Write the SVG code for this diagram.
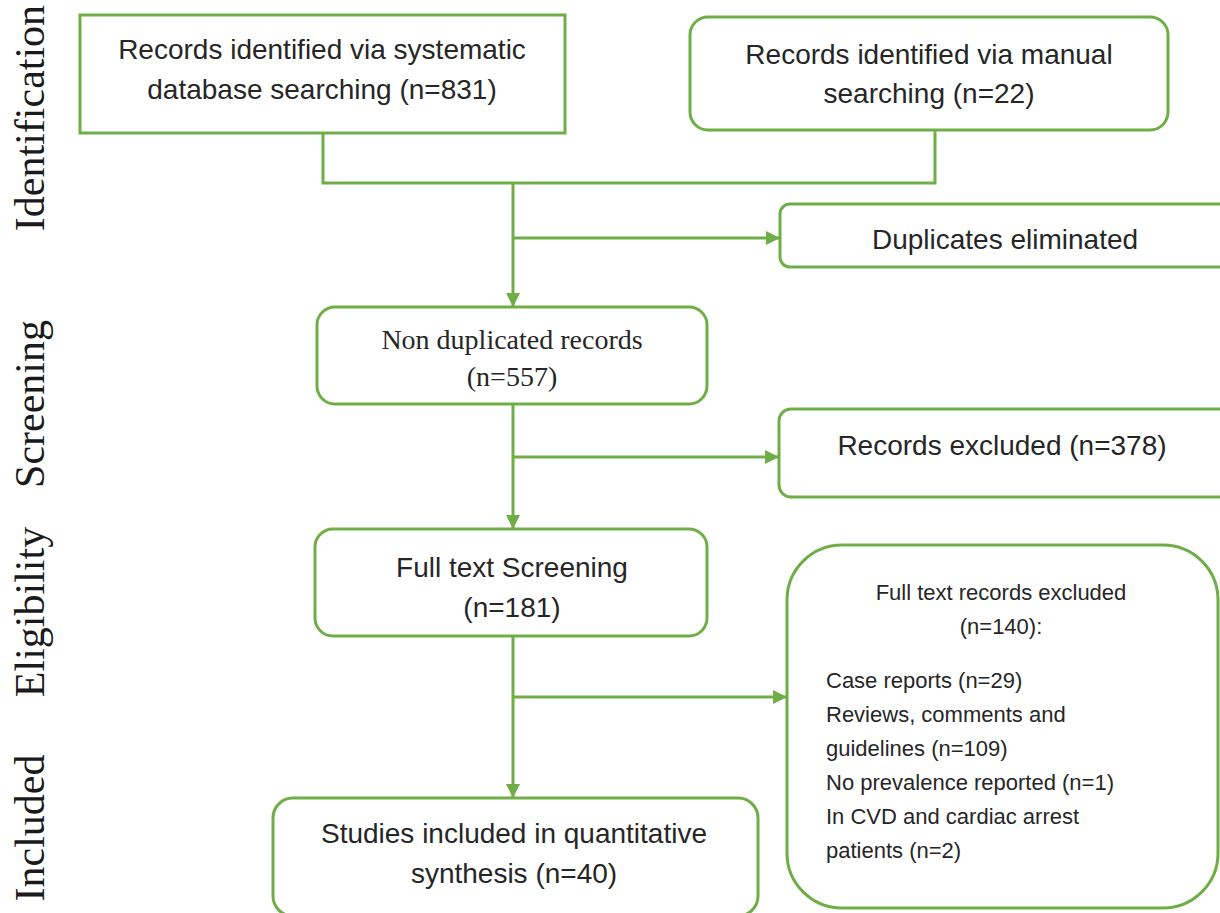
<svg xmlns="http://www.w3.org/2000/svg" width="1220" height="913" viewBox="0 0 1220 913">
<defs>
<style>
.box{fill:#fff;stroke:#6fae46;stroke-width:3}
.con{fill:none;stroke:#6fae46;stroke-width:3}
.t{font-family:"Liberation Sans",Arial,sans-serif;font-size:28px;fill:#262626;text-anchor:middle}
.s{font-family:"Liberation Serif","Times New Roman",serif;font-size:28px;fill:#262626;text-anchor:middle}
.sm{font-family:"Liberation Sans",Arial,sans-serif;font-size:22px;fill:#262626}
.lab{font-family:"Liberation Serif","Times New Roman",serif;font-size:42px;fill:#1a1a1a;text-anchor:middle}
</style>
<marker id="arr" markerUnits="userSpaceOnUse" markerWidth="16" markerHeight="16" refX="14" refY="7" orient="auto">
<path d="M0,0 L14,7 L0,14 Z" fill="#6fae46"/>
</marker>
</defs>
<rect width="1220" height="913" fill="#fff"/>

<g id="stage-labels">
<text class="lab" transform="translate(44,118) rotate(-90)">Identification</text>
<text class="lab" transform="translate(44,404) rotate(-90)">Screening</text>
<text class="lab" transform="translate(44,612) rotate(-90)">Eligibility</text>
<text class="lab" transform="translate(44,828) rotate(-90)">Included</text>
</g>

<g id="connectors">
<path class="con" d="M323,133 V183 H935 V130"/>
<path class="con" d="M513,183 V307" marker-end="url(#arr)"/>
<path class="con" d="M513,238 H780" marker-end="url(#arr)"/>
<path class="con" d="M513,404 V529" marker-end="url(#arr)"/>
<path class="con" d="M513,457 H779" marker-end="url(#arr)"/>
<path class="con" d="M513,636 V798" marker-end="url(#arr)"/>
<path class="con" d="M513,697 H787" marker-end="url(#arr)"/>
</g>

<g id="n-database">
<rect class="box" x="80" y="15" width="485" height="118"/>
<text class="t" x="322" y="59">Records identified via systematic</text>
<text class="t" x="322" y="99">database searching (n=831)</text>
</g>

<g id="n-manual">
<rect class="box" x="690" y="17" width="478" height="113" rx="18"/>
<text class="t" x="929" y="64">Records identified via manual</text>
<text class="t" x="929" y="103">searching (n=22)</text>
</g>

<g id="n-duplicates">
<rect class="box" x="780" y="204" width="460" height="63" rx="10"/>
<text class="t" x="1005" y="249">Duplicates eliminated</text>
</g>

<g id="n-nondup">
<rect class="box" x="317" y="307" width="390" height="97" rx="18"/>
<text class="s" x="512" y="349">Non duplicated records</text>
<text class="s" x="512" y="386">(n=557)</text>
</g>

<g id="n-excluded">
<rect class="box" x="779" y="409" width="460" height="88" rx="12"/>
<text class="t" x="1002" y="455">Records excluded (n=378)</text>
</g>

<g id="n-fulltext">
<rect class="box" x="315" y="529" width="392" height="107" rx="18"/>
<text class="t" x="512" y="577">Full text Screening</text>
<text class="t" x="512" y="617">(n=181)</text>
</g>

<g id="n-ft-excluded">
<rect class="box" x="787" y="545" width="431" height="363" rx="55"/>
<text class="sm" x="1001" y="600" text-anchor="middle">Full text records excluded</text>
<text class="sm" x="1001" y="634" text-anchor="middle">(n=140):</text>
<text class="sm" x="826" y="688">Case reports (n=29)</text>
<text class="sm" x="826" y="722">Reviews, comments and</text>
<text class="sm" x="826" y="756">guidelines (n=109)</text>
<text class="sm" x="826" y="790">No prevalence reported (n=1)</text>
<text class="sm" x="826" y="824">In CVD and cardiac arrest</text>
<text class="sm" x="826" y="858">patients (n=2)</text>
</g>

<g id="n-included">
<rect class="box" x="273" y="798" width="485" height="118" rx="20"/>
<text class="t" x="514" y="843">Studies included in quantitative</text>
<text class="t" x="514" y="883">synthesis (n=40)</text>
</g>
</svg>
